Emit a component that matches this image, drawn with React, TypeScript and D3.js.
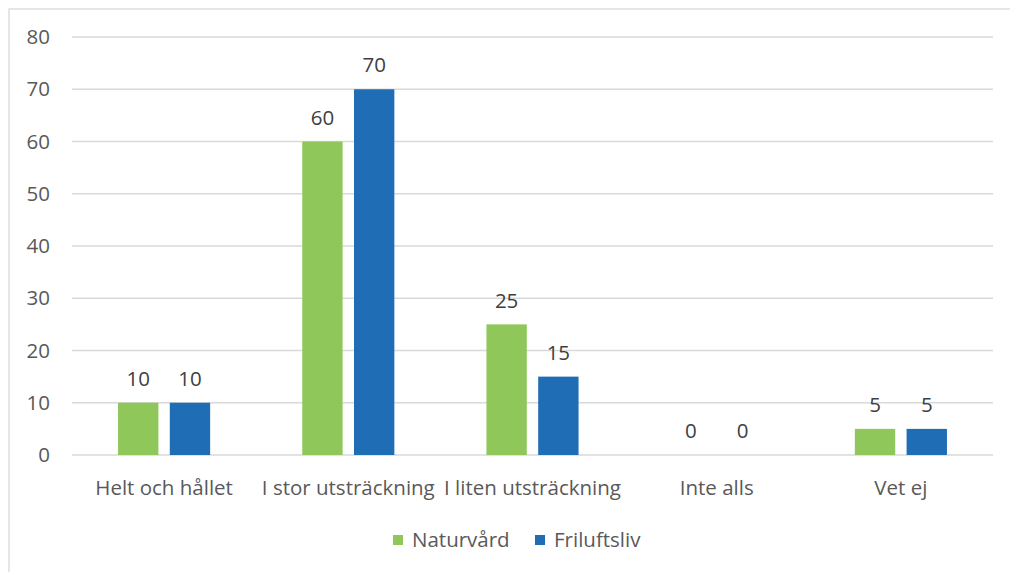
import * as d3 from 'd3';

const WIDTH = 1010;
const HEIGHT = 572;
const MARGINS = { top: 37, right: 17, bottom: 117, left: 72 };

const categories = ['Helt och hållet', 'I stor utsträckning', 'I liten utsträckning', 'Inte alls', 'Vet ej'];
const naturvard = [10, 60, 25, 0, 5];
const friluftsliv = [10, 70, 15, 0, 5];
const yTicks = [0, 10, 20, 30, 40, 50, 60, 70, 80];

const seriesNames = ['Naturvård', 'Friluftsliv'];
const seriesColors = ['#8fc75a', '#1f6db5'];

const FONT = '"Open Sans", "Noto Sans", sans-serif';
const TEXT = '#595959';
const FS = 20.5;

export default function App() {
  const plotW = WIDTH - MARGINS.left - MARGINS.right;
  const plotH = HEIGHT - MARGINS.top - MARGINS.bottom;

  const x = d3.scaleBand<string>().domain(categories).range([0, plotW]).paddingInner(0).paddingOuter(0);
  const y = d3.scaleLinear().domain([0, 80]).range([plotH, 0]);
  const inner = d3
    .scaleBand<string>()
    .domain(seriesNames)
    .range([x.bandwidth() * 0.25, x.bandwidth() * 0.75])
    .paddingInner(0.22)
    .paddingOuter(0);

  const series = [naturvard, friluftsliv];

  return (
    <svg
      width={WIDTH}
      height={HEIGHT}
      style={{ position: 'absolute', left: 0, top: 0, background: '#fff' }}
      fontFamily={FONT}
    >
      <rect x={9} y={9} width={1010} height={600} fill="#fff" stroke="#d9d9d9" strokeWidth={1.3} />
      <g transform={`translate(${MARGINS.left},${MARGINS.top})`}>
        {yTicks.map((t) => (
          <g key={t}>
            <line x1={0} x2={plotW} y1={y(t)} y2={y(t)} stroke="#d9d9d9" strokeWidth={1.3} />
            <text x={-22} y={y(t)} dy="0.35em" textAnchor="end" fontSize={FS} fill={TEXT}>
              {t}
            </text>
          </g>
        ))}
        {categories.map((c, ci) => (
          <g key={c} transform={`translate(${x(c)},0)`}>
            {series.map((vals, si) => {
              const bx = inner(seriesNames[si]) as number;
              const v = vals[ci];
              return (
                <g key={si}>
                  {v > 0 && (
                    <rect
                      x={bx}
                      y={y(v)}
                      width={inner.bandwidth()}
                      height={y(0) - y(v)}
                      fill={seriesColors[si]}
                    />
                  )}
                  <text
                    x={bx + inner.bandwidth() / 2}
                    y={y(v) - 24}
                    dy="0.35em"
                    textAnchor="middle"
                    fontSize={FS}
                    fill="#404040"
                  >
                    {v}
                  </text>
                </g>
              );
            })}
            <text x={x.bandwidth() / 2} y={plotH + 33} dy="0.35em" textAnchor="middle" fontSize={FS} fill={TEXT}>
              {c}
            </text>
          </g>
        ))}
      </g>
      <g transform="translate(393,540)">
        <rect x={0} y={-5} width={10} height={10} fill={seriesColors[0]} />
        <text x={19} y={0} dy="0.35em" fontSize={FS} fill={TEXT}>
          {seriesNames[0]}
        </text>
        <rect x={142} y={-5} width={10} height={10} fill={seriesColors[1]} />
        <text x={161} y={0} dy="0.35em" fontSize={FS} fill={TEXT}>
          {seriesNames[1]}
        </text>
      </g>
    </svg>
  );
}
